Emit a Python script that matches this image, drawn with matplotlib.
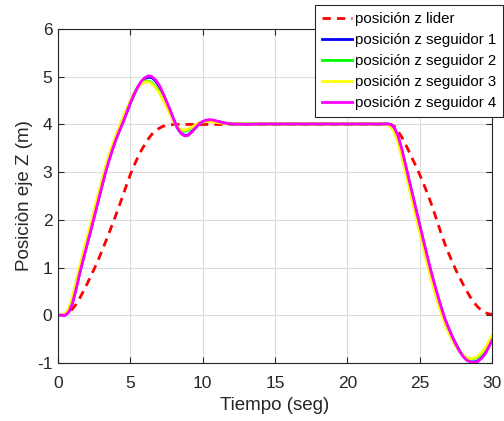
import numpy as np
import matplotlib
matplotlib.use("Agg")
import matplotlib.pyplot as plt

plt.rcParams['font.family'] = ['Liberation Sans', 'DejaVu Sans']
plt.rcParams['axes.unicode_minus'] = False

# tiempo (seg): paso fino en las zonas curvas, grueso en la meseta
t = np.r_[np.arange(0, 12.01, 0.25), np.arange(13, 22.01, 1.0), np.arange(22.5, 30.01, 0.25)]

lider = [0.0, 0.0, 0.02, 0.06, 0.13, 0.23, 0.36, 0.50, 0.65, 0.81, 0.97, 1.14,
         1.32, 1.51, 1.70, 1.90, 2.10, 2.31, 2.52, 2.74, 2.95, 3.13, 3.30, 3.45,
         3.58, 3.70, 3.80, 3.87, 3.92, 3.96, 3.98, 3.99, 4.0, 4.0, 4.0, 4.0,
         4.0, 4.0, 4.0, 4.0, 4.0, 4.0, 4.0, 4.0, 4.0, 4.0, 4.0, 4.0, 4.0,
         4.0, 4.0, 4.0, 4.0, 4.0, 4.0, 4.0, 4.0, 4.0, 4.0,
         4.0, 4.0, 4.0, 3.96, 3.86, 3.74, 3.60, 3.44, 3.28, 3.12, 2.95, 2.77,
         2.58, 2.38, 2.16, 1.93, 1.70, 1.49, 1.30, 1.12, 0.95, 0.80, 0.65, 0.51,
         0.38, 0.27, 0.18, 0.11, 0.06, 0.03, 0.02]

seg1 = [0.0, 0.0, 0.0, 0.08, 0.26, 0.56, 0.89, 1.19, 1.48, 1.77, 2.07, 2.37,
        2.67, 2.97, 3.23, 3.47, 3.69, 3.88, 4.06, 4.25, 4.45, 4.62, 4.77, 4.89,
        4.96, 4.99, 4.98, 4.91, 4.80, 4.64, 4.47, 4.29, 4.10, 3.93, 3.82, 3.77,
        3.78, 3.85, 3.93, 4.01, 4.06, 4.08, 4.09, 4.08, 4.06, 4.05, 4.03, 4.02, 4.01,
        4.01, 4.01, 4.01, 4.01, 4.01, 4.01, 4.01, 4.01, 4.01, 4.01,
        4.01, 4.01, 4.0, 3.92, 3.74, 3.48, 3.16, 2.84, 2.52, 2.20, 1.88, 1.56,
        1.25, 0.95, 0.66, 0.39, 0.14, -0.09, -0.28, -0.45, -0.60, -0.74, -0.85, -0.93,
        -0.97, -0.98, -0.96, -0.90, -0.81, -0.67, -0.51]

seg2 = [0.0, 0.0, 0.02, 0.13, 0.35, 0.67, 0.99, 1.29, 1.58, 1.87, 2.17, 2.47,
        2.77, 3.05, 3.31, 3.54, 3.75, 3.94, 4.12, 4.31, 4.49, 4.65, 4.77, 4.86,
        4.91, 4.91, 4.87, 4.79, 4.69, 4.55, 4.40, 4.24, 4.07, 3.95, 3.88, 3.86,
        3.88, 3.93, 3.98, 4.03, 4.05, 4.06, 4.07, 4.06, 4.05, 4.04, 4.02, 4.01, 4.01,
        4.01, 4.01, 4.01, 4.01, 4.01, 4.01, 4.01, 4.01, 4.01, 4.01,
        4.01, 4.0, 3.97, 3.86, 3.66, 3.38, 3.06, 2.74, 2.42, 2.10, 1.78, 1.46,
        1.15, 0.85, 0.56, 0.30, 0.06, -0.15, -0.34, -0.50, -0.64, -0.75, -0.84, -0.90,
        -0.92, -0.91, -0.88, -0.81, -0.72, -0.59, -0.44]

seg3 = [0.0, 0.0, 0.03, 0.15, 0.38, 0.70, 1.02, 1.32, 1.61, 1.90, 2.20, 2.50,
        2.80, 3.08, 3.33, 3.56, 3.77, 3.96, 4.14, 4.32, 4.50, 4.65, 4.77, 4.85,
        4.89, 4.89, 4.85, 4.77, 4.66, 4.52, 4.37, 4.21, 4.06, 3.95, 3.89, 3.88,
        3.90, 3.94, 3.99, 4.03, 4.05, 4.06, 4.06, 4.05, 4.04, 4.03, 4.02, 4.01, 4.01,
        4.01, 4.01, 4.01, 4.01, 4.01, 4.01, 4.01, 4.01, 4.01, 4.01,
        4.01, 4.0, 3.96, 3.84, 3.62, 3.34, 3.02, 2.70, 2.38, 2.06, 1.74, 1.42,
        1.11, 0.81, 0.53, 0.27, 0.03, -0.18, -0.36, -0.52, -0.65, -0.76, -0.84, -0.89,
        -0.91, -0.90, -0.86, -0.79, -0.70, -0.57, -0.42]

seg4 = [0.0, 0.0, 0.0, 0.07, 0.25, 0.55, 0.88, 1.18, 1.47, 1.76, 2.06, 2.36,
        2.66, 2.96, 3.22, 3.46, 3.68, 3.87, 4.05, 4.25, 4.45, 4.63, 4.78, 4.90,
        4.98, 5.02, 5.00, 4.93, 4.82, 4.66, 4.48, 4.30, 4.10, 3.93, 3.81, 3.76,
        3.77, 3.84, 3.93, 4.01, 4.06, 4.09, 4.10, 4.09, 4.07, 4.05, 4.03, 4.02, 4.01,
        4.0, 4.01, 4.01, 4.01, 4.01, 4.01, 4.01, 4.01, 4.01, 4.01,
        4.01, 4.01, 4.0, 3.93, 3.76, 3.50, 3.18, 2.86, 2.54, 2.22, 1.90, 1.58,
        1.27, 0.96, 0.68, 0.41, 0.16, -0.08, -0.27, -0.45, -0.61, -0.75, -0.86, -0.94,
        -0.98, -0.99, -0.97, -0.91, -0.82, -0.68, -0.52]

etiquetas = ['posición z lider', 'posición z seguidor 1', 'posición z seguidor 2',
             'posición z seguidor 3', 'posición z seguidor 4']

fig = plt.figure(figsize=(5.04, 4.21), dpi=100)
ax = fig.add_axes([58/504, 1-363/421, 434/504, 334/421])

ax.plot(t, lider, color='red', lw=2, linestyle=(0, (3, 2.2)), label=etiquetas[0])
ax.plot(t, seg1, color='blue', lw=2, label=etiquetas[1])
ax.plot(t, seg2, color='#00ff00', lw=2, label=etiquetas[2])
ax.plot(t, seg3, color='yellow', lw=2, label=etiquetas[3])
ax.plot(t, seg4, color='magenta', lw=2, label=etiquetas[4])

ax.set_xlim(0, 30)
ax.set_ylim(-1, 6)
ax.set_xticks(np.arange(0, 31, 5))
ax.set_yticks(np.arange(-1, 7, 1))
ax.grid(True, color='#dcdcdc', lw=0.8)
ax.set_axisbelow(True)
ax.tick_params(direction='in', top=True, right=True, labelsize=12.5,
               colors='#262626', length=4)
ax.tick_params(axis='x', pad=9)
ax.tick_params(axis='y', pad=4)
for s in ax.spines.values():
    s.set_color('#262626')
    s.set_linewidth(0.8)

ax.set_xlabel('Tiempo (seg)', fontsize=13.5, color='#262626', labelpad=5)
ax.set_ylabel('Posiciòn eje Z (m)', fontsize=13.5, color='#262626', labelpad=3)

leg = ax.legend(loc='upper right', bbox_to_anchor=(503/504, 1-5/421),
                bbox_transform=fig.transFigure, fontsize=10.8, fancybox=False,
                framealpha=1, edgecolor='#262626', handlelength=2.0,
                handletextpad=0.2, borderpad=0.45, labelspacing=0.47,
                borderaxespad=0)
leg.get_frame().set_linewidth(0.8)

fig.savefig('out.png', dpi=100)
